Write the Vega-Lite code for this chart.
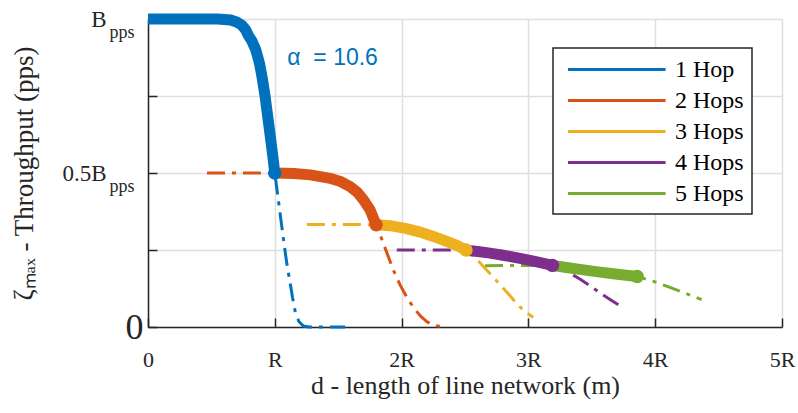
{
  "$schema": "https://vega.github.io/schema/vega-lite/v6.json",
  "width": 634,
  "height": 308,
  "autosize": {"type": "none"},
  "padding": {"left": 148, "top": 19, "right": 16, "bottom": 86},
  "background": "#ffffff",
  "config": {"view": {"stroke": null}, "legend": {"strokeWidth": 1.5, "labelFont": "Liberation Serif", "labelFontSize": 24, "labelColor": "#000000"}},
  "datasets": {
    "curves": [
      {"s": "1 Hop", "x": 0, "y": 1, "b": 1, "e": 0},
      {"s": "1 Hop", "x": 0.2, "y": 1, "b": 1, "e": 0},
      {"s": "1 Hop", "x": 0.4, "y": 1, "b": 1, "e": 0},
      {"s": "1 Hop", "x": 0.55, "y": 1, "b": 1, "e": 0},
      {"s": "1 Hop", "x": 0.65, "y": 0.997, "b": 1, "e": 0},
      {"s": "1 Hop", "x": 0.7, "y": 0.99, "b": 1, "e": 0},
      {"s": "1 Hop", "x": 0.74, "y": 0.98, "b": 1, "e": 0},
      {"s": "1 Hop", "x": 0.77, "y": 0.965, "b": 1, "e": 0},
      {"s": "1 Hop", "x": 0.79, "y": 0.948, "b": 1, "e": 0},
      {"s": "1 Hop", "x": 0.82, "y": 0.928, "b": 1, "e": 0},
      {"s": "1 Hop", "x": 0.85, "y": 0.9, "b": 1, "e": 0},
      {"s": "1 Hop", "x": 0.88, "y": 0.855, "b": 1, "e": 0},
      {"s": "1 Hop", "x": 0.9, "y": 0.81, "b": 1, "e": 0},
      {"s": "1 Hop", "x": 0.922, "y": 0.753, "b": 1, "e": 0},
      {"s": "1 Hop", "x": 0.953, "y": 0.656, "b": 1, "e": 0},
      {"s": "1 Hop", "x": 0.983, "y": 0.559, "b": 1, "e": 0},
      {"s": "1 Hop", "x": 1, "y": 0.5, "b": 1, "e": 1},
      {"s": "1 Hop", "x": 1.035, "y": 0.39, "b": 0, "e": 0},
      {"s": "1 Hop", "x": 1.069, "y": 0.283, "b": 0, "e": 0},
      {"s": "1 Hop", "x": 1.095, "y": 0.205, "b": 0, "e": 0},
      {"s": "1 Hop", "x": 1.121, "y": 0.143, "b": 0, "e": 0},
      {"s": "1 Hop", "x": 1.14, "y": 0.095, "b": 0, "e": 0},
      {"s": "1 Hop", "x": 1.161, "y": 0.05, "b": 0, "e": 0},
      {"s": "1 Hop", "x": 1.19, "y": 0.018, "b": 0, "e": 0},
      {"s": "1 Hop", "x": 1.226, "y": 0.003, "b": 0, "e": 0},
      {"s": "1 Hop", "x": 1.27, "y": 0, "b": 0, "e": 0},
      {"s": "1 Hop", "x": 1.555, "y": 0, "b": 0, "e": 0},
      {"s": "2 Hops", "x": 0.465, "y": 0.5, "b": 0, "e": 0},
      {"s": "2 Hops", "x": 0.7, "y": 0.5, "b": 0, "e": 0},
      {"s": "2 Hops", "x": 0.9, "y": 0.5, "b": 0, "e": 0},
      {"s": "2 Hops", "x": 1, "y": 0.5, "b": 1, "e": 0},
      {"s": "2 Hops", "x": 1.15, "y": 0.498, "b": 1, "e": 0},
      {"s": "2 Hops", "x": 1.28, "y": 0.494, "b": 1, "e": 0},
      {"s": "2 Hops", "x": 1.436, "y": 0.483, "b": 1, "e": 0},
      {"s": "2 Hops", "x": 1.52, "y": 0.472, "b": 1, "e": 0},
      {"s": "2 Hops", "x": 1.594, "y": 0.456, "b": 1, "e": 0},
      {"s": "2 Hops", "x": 1.65, "y": 0.438, "b": 1, "e": 0},
      {"s": "2 Hops", "x": 1.699, "y": 0.413, "b": 1, "e": 0},
      {"s": "2 Hops", "x": 1.752, "y": 0.38, "b": 1, "e": 0},
      {"s": "2 Hops", "x": 1.799, "y": 0.332, "b": 1, "e": 1},
      {"s": "2 Hops", "x": 1.83, "y": 0.3, "b": 0, "e": 0},
      {"s": "2 Hops", "x": 1.88, "y": 0.245, "b": 0, "e": 0},
      {"s": "2 Hops", "x": 1.935, "y": 0.185, "b": 0, "e": 0},
      {"s": "2 Hops", "x": 1.99, "y": 0.135, "b": 0, "e": 0},
      {"s": "2 Hops", "x": 2.05, "y": 0.09, "b": 0, "e": 0},
      {"s": "2 Hops", "x": 2.1, "y": 0.06, "b": 0, "e": 0},
      {"s": "2 Hops", "x": 2.15, "y": 0.035, "b": 0, "e": 0},
      {"s": "2 Hops", "x": 2.2, "y": 0.017, "b": 0, "e": 0},
      {"s": "2 Hops", "x": 2.25, "y": 0.006, "b": 0, "e": 0},
      {"s": "2 Hops", "x": 2.33, "y": 0, "b": 0, "e": 0},
      {"s": "3 Hops", "x": 1.253, "y": 0.333, "b": 0, "e": 0},
      {"s": "3 Hops", "x": 1.5, "y": 0.333, "b": 0, "e": 0},
      {"s": "3 Hops", "x": 1.799, "y": 0.332, "b": 1, "e": 0},
      {"s": "3 Hops", "x": 1.909, "y": 0.329, "b": 1, "e": 0},
      {"s": "3 Hops", "x": 2.03, "y": 0.32, "b": 1, "e": 0},
      {"s": "3 Hops", "x": 2.146, "y": 0.308, "b": 1, "e": 0},
      {"s": "3 Hops", "x": 2.25, "y": 0.294, "b": 1, "e": 0},
      {"s": "3 Hops", "x": 2.35, "y": 0.279, "b": 1, "e": 0},
      {"s": "3 Hops", "x": 2.434, "y": 0.265, "b": 1, "e": 0},
      {"s": "3 Hops", "x": 2.508, "y": 0.25, "b": 1, "e": 1},
      {"s": "3 Hops", "x": 2.56, "y": 0.233, "b": 0, "e": 0},
      {"s": "3 Hops", "x": 2.62, "y": 0.208, "b": 0, "e": 0},
      {"s": "3 Hops", "x": 2.7, "y": 0.172, "b": 0, "e": 0},
      {"s": "3 Hops", "x": 2.776, "y": 0.138, "b": 0, "e": 0},
      {"s": "3 Hops", "x": 2.85, "y": 0.104, "b": 0, "e": 0},
      {"s": "3 Hops", "x": 2.908, "y": 0.076, "b": 0, "e": 0},
      {"s": "3 Hops", "x": 2.97, "y": 0.05, "b": 0, "e": 0},
      {"s": "3 Hops", "x": 3.038, "y": 0.032, "b": 0, "e": 0},
      {"s": "4 Hops", "x": 1.962, "y": 0.25, "b": 0, "e": 0},
      {"s": "4 Hops", "x": 2.2, "y": 0.25, "b": 0, "e": 0},
      {"s": "4 Hops", "x": 2.4, "y": 0.25, "b": 0, "e": 0},
      {"s": "4 Hops", "x": 2.508, "y": 0.249, "b": 1, "e": 0},
      {"s": "4 Hops", "x": 2.6, "y": 0.245, "b": 1, "e": 0},
      {"s": "4 Hops", "x": 2.697, "y": 0.24, "b": 1, "e": 0},
      {"s": "4 Hops", "x": 2.8, "y": 0.233, "b": 1, "e": 0},
      {"s": "4 Hops", "x": 2.934, "y": 0.223, "b": 1, "e": 0},
      {"s": "4 Hops", "x": 3.05, "y": 0.213, "b": 1, "e": 0},
      {"s": "4 Hops", "x": 3.19, "y": 0.2, "b": 1, "e": 1},
      {"s": "4 Hops", "x": 3.3, "y": 0.181, "b": 0, "e": 0},
      {"s": "4 Hops", "x": 3.406, "y": 0.156, "b": 0, "e": 0},
      {"s": "4 Hops", "x": 3.49, "y": 0.133, "b": 0, "e": 0},
      {"s": "4 Hops", "x": 3.564, "y": 0.111, "b": 0, "e": 0},
      {"s": "4 Hops", "x": 3.65, "y": 0.088, "b": 0, "e": 0},
      {"s": "4 Hops", "x": 3.748, "y": 0.062, "b": 0, "e": 0},
      {"s": "5 Hops", "x": 2.658, "y": 0.199, "b": 0, "e": 0},
      {"s": "5 Hops", "x": 2.9, "y": 0.2, "b": 0, "e": 0},
      {"s": "5 Hops", "x": 3.19, "y": 0.2, "b": 1, "e": 0},
      {"s": "5 Hops", "x": 3.3, "y": 0.193, "b": 1, "e": 0},
      {"s": "5 Hops", "x": 3.406, "y": 0.187, "b": 1, "e": 0},
      {"s": "5 Hops", "x": 3.55, "y": 0.179, "b": 1, "e": 0},
      {"s": "5 Hops", "x": 3.669, "y": 0.173, "b": 1, "e": 0},
      {"s": "5 Hops", "x": 3.77, "y": 0.168, "b": 1, "e": 0},
      {"s": "5 Hops", "x": 3.858, "y": 0.164, "b": 1, "e": 1},
      {"s": "5 Hops", "x": 3.93, "y": 0.155, "b": 0, "e": 0},
      {"s": "5 Hops", "x": 4.011, "y": 0.145, "b": 0, "e": 0},
      {"s": "5 Hops", "x": 4.1, "y": 0.131, "b": 0, "e": 0},
      {"s": "5 Hops", "x": 4.195, "y": 0.116, "b": 0, "e": 0},
      {"s": "5 Hops", "x": 4.28, "y": 0.103, "b": 0, "e": 0},
      {"s": "5 Hops", "x": 4.366, "y": 0.089, "b": 0, "e": 0}
    ],
    "notes": [{"t": "α\u00a0\u00a0=\u00a010.6", "x": 1.098, "y": 0.873}],
    "ticks": [{"v": 0}, {"v": 0.5}, {"v": 1}]
  },
  "layer": [
    {
      "data": {"name": "curves"},
      "encoding": {
        "x": {
          "field": "x", "type": "quantitative",
          "scale": {"domain": [0, 5], "nice": false, "zero": false},
          "axis": {
            "values": [0, 1, 2, 3, 4, 5],
            "labelExpr": "datum.value==0?'0':datum.value==1?'R':datum.value+'R'",
            "labelFont": "Liberation Serif", "labelFontSize": 22, "labelColor": "#262626",
            "labelPadding": 31, "labelFlush": false, "labelOverlap": false,
            "tickSize": -9, "tickWidth": 1.5, "tickColor": "#262626",
            "domainColor": "#262626", "domainWidth": 1.5,
            "grid": true, "gridColor": "#dfdfdf", "gridWidth": 1.5,
            "title": "d - length of line network (m)",
            "titleFont": "Liberation Serif", "titleFontSize": 26, "titleFontWeight": "normal",
            "titleColor": "#262626", "titleY": 66, "titleBaseline": "alphabetic"
          }
        },
        "y": {
          "field": "y", "type": "quantitative",
          "scale": {"domain": [0, 1], "nice": false},
          "axis": {
            "values": [0, 0.25, 0.5, 0.75, 1],
            "labelExpr": "datum.value==1?'B':datum.value==0.5?'0.5B':''",
            "labelFont": "Liberation Serif", "labelFontSize": 23, "labelColor": "#262626",
            "labelPadding": 51, "labelFlush": false, "labelOverlap": false,
            "tickSize": -9, "tickWidth": 1.5, "tickColor": "#262626",
            "domainColor": "#262626", "domainWidth": 1.5,
            "grid": true, "gridColor": "#dfdfdf", "gridWidth": 1.5,
            "title": "ζₘₐₓ - Throughput (pps)",
            "titleFont": "Liberation Serif", "titleFontSize": 27, "titleFontWeight": "normal",
            "titleColor": "#262626", "titleX": -116, "titleBaseline": "alphabetic"
          }
        }
      },
      "layer": [
        {
          "mark": {"type": "line", "strokeWidth": 3, "strokeDash": [18, 7, 4, 7]},
          "encoding": {
            "color": {"field": "s", "type": "nominal",
              "scale": {"domain": ["1 Hop", "2 Hops", "3 Hops", "4 Hops", "5 Hops"],
                        "range": ["#0072BD", "#D95319", "#EDB120", "#7E2F8E", "#77AC30"]},
              "legend": {
                "orient": "none", "legendX": 405, "legendY": 29, "title": null,
                "symbolType": "M-0.54,0H7.59", "symbolSize": 576, "symbolStrokeWidth": 3,
                "symbolDash": [1, 0],
                "labelFont": "Liberation Serif", "labelFontSize": 24, "labelColor": "#000000",
                "labelOffset": 87, "padding": 8, "rowPadding": 5,
                "strokeColor": "#262626", "fillColor": "#ffffff"
              }}
          }
        },
        {
          "transform": [{"filter": "datum.b == 1"}],
          "mark": {"type": "line", "strokeWidth": 11},
          "encoding": {
            "color": {"field": "s", "type": "nominal",
              "scale": {"domain": ["1 Hop", "2 Hops", "3 Hops", "4 Hops", "5 Hops"],
                        "range": ["#0072BD", "#D95319", "#EDB120", "#7E2F8E", "#77AC30"]},
              "legend": {
                "orient": "none", "legendX": 405, "legendY": 29, "title": null,
                "symbolType": "M-0.54,0H7.59", "symbolSize": 576, "symbolStrokeWidth": 3,
                "symbolDash": [1, 0],
                "labelFont": "Liberation Serif", "labelFontSize": 24, "labelColor": "#000000",
                "labelOffset": 87, "padding": 8, "rowPadding": 5,
                "strokeColor": "#262626", "fillColor": "#ffffff"
              }}
          }
        },
        {
          "transform": [{"filter": "datum.e == 1"}],
          "mark": {"type": "circle", "size": 180, "opacity": 1},
          "encoding": {
            "color": {"field": "s", "type": "nominal",
              "scale": {"domain": ["1 Hop", "2 Hops", "3 Hops", "4 Hops", "5 Hops"],
                        "range": ["#0072BD", "#D95319", "#EDB120", "#7E2F8E", "#77AC30"]},
              "legend": {
                "orient": "none", "legendX": 405, "legendY": 29, "title": null,
                "symbolType": "M-0.54,0H7.59", "symbolSize": 576, "symbolStrokeWidth": 3,
                "symbolDash": [1, 0],
                "labelFont": "Liberation Serif", "labelFontSize": 24, "labelColor": "#000000",
                "labelOffset": 87, "padding": 8, "rowPadding": 5,
                "strokeColor": "#262626", "fillColor": "#ffffff"
              }}
          }
        },
        {
          "data": {"name": "notes"},
          "mark": {"type": "text", "align": "left", "baseline": "middle", "font": "Liberation Sans", "fontSize": 23, "color": "#0072BD"},
          "encoding": {"text": {"field": "t"}}
        }
      ]
    },
    {
      "data": {"name": "ticks"},
      "mark": {"type": "point", "opacity": 0},
      "encoding": {
        "y": {
          "field": "v", "type": "quantitative",
          "scale": {"domain": [0, 1], "nice": false},
          "axis": {
            "orient": "left", "values": [0, 0.5, 1],
            "labelExpr": "datum.value==0?'0':'pps'",
            "labelFont": "Liberation Serif",
            "labelFontSize": {"condition": {"test": "datum.value==0", "value": 36}, "value": 18},
            "labelBaseline": {"condition": {"test": "datum.value==0", "value": "middle"}, "value": "line-top"},
            "labelAlign": {"condition": {"test": "datum.value==0", "value": "center"}, "value": "right"},
            "labelLineHeight": 26,
            "labelPadding": 14, "labelColor": "#262626",
            "ticks": false, "domain": false, "grid": false, "title": null,
            "labelOverlap": false, "labelFlush": false
          }
        }
      }
    }
  ],
  "resolve": {"scale": {"y": "independent"}}
}
